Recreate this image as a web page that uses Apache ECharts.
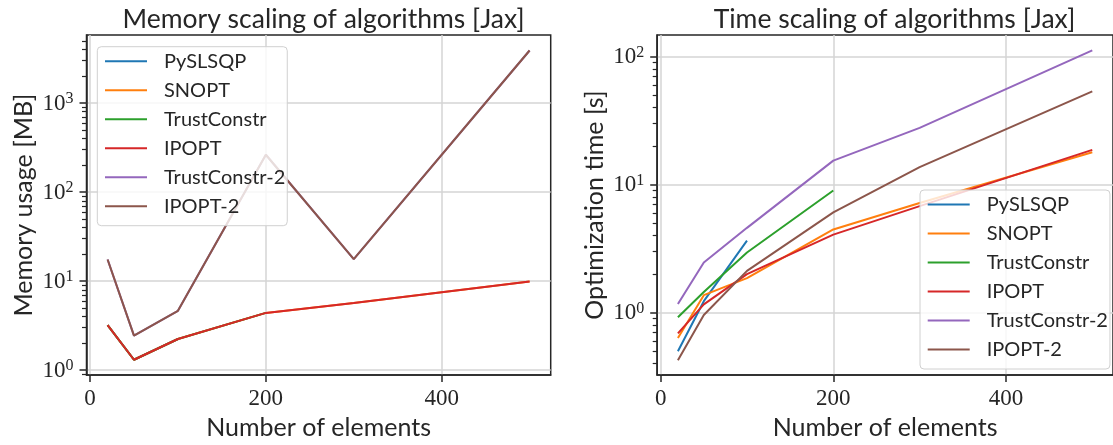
<!DOCTYPE html>
<html><head><meta charset="utf-8">
<script src="https://cdn.jsdelivr.net/npm/echarts@6/dist/echarts.min.js"></script>
<style>html,body{margin:0;padding:0;background:#fff}#c{width:1113px;height:445px}</style>
</head><body><div id="c"></div>
<script>
// ---------- data ----------
const seriesNames = ['PySLSQP', 'SNOPT', 'TrustConstr', 'IPOPT', 'TrustConstr-2', 'IPOPT-2'];
const colors = ['#1f77b4', '#ff7f0e', '#2ca02c', '#d62728', '#9467bd', '#8c564b'];
const elements = [20, 50, 100, 200, 300, 500];

// Memory usage [MB]
const memPySLSQP = [3.2, 1.31, 2.24];
const memSNOPT = [3.2, 1.31, 2.24, 4.4, 5.7, 9.9];
const memTrustConstr = [3.2, 1.31, 2.24, 4.4];
const memIPOPT = [3.2, 1.31, 2.24, 4.4, 5.7, 9.9];
const memTrustConstr2 = [17.5, 2.45, 4.65, 263, 17.7, 3900];
const memIPOPT2 = [17.5, 2.45, 4.65, 263, 17.7, 3900];

// Optimization time [s]
const timePySLSQP = [0.5, 1.23, 3.65];
const timeSNOPT = [0.635, 1.37, 1.86, 4.47, 7.2, 17.9];
const timeTrustConstr = [0.92, 1.45, 2.95, 9.0];
const timeIPOPT = [0.69, 1.16, 2.0, 4.07, 6.8, 18.7];
const timeTrustConstr2 = [1.17, 2.47, 4.6, 15.4, 27.8, 112];
const timeIPOPT2 = [0.425, 0.96, 2.12, 6.07, 13.7, 53.5];

// tick labels
const xTicks = [0, 200, 400];
const memDecades = [0, 1, 2, 3];
const timeDecades = [0, 1, 2];

const titles = ['Memory scaling of algorithms [Jax]', 'Time scaling of algorithms [Jax]'];
const yNames = ['Memory usage [MB]', 'Optimization time [s]'];
const xName = 'Number of elements';

// ---------- styling ----------
const SANS = 'Lato';
const SERIF = 'Liberation Serif';
const TXT = '#262626';
const GRIDC = '#d4d4d4';

const memSets = [memPySLSQP, memSNOPT, memTrustConstr, memIPOPT, memTrustConstr2, memIPOPT2];
const timeSets = [timePySLSQP, timeSNOPT, timeTrustConstr, timeIPOPT, timeTrustConstr2, timeIPOPT2];

const grids = [
  { left: 86.5, top: 35, width: 464.2, height: 345.7 },
  { left: 657.2, top: 35, width: 464.6, height: 345 }
];
const yRanges = [[-0.055, 3.765], [-0.4875, 2.169]];
const decadeSets = [memDecades, timeDecades];

function minorTicks(lo, hi) {
  const out = [];
  for (let d = Math.floor(lo); d <= Math.ceil(hi); d++) {
    for (let m = 2; m <= 9; m++) {
      const v = d + Math.log10(m);
      if (v >= lo && v <= hi) out.push(v);
    }
  }
  return out;
}

const xAxes = [0, 1].map(g => ({
  type: 'value', gridIndex: g, min: -4, max: 524,
  name: xName, nameLocation: 'middle', nameGap: 38,
  nameTextStyle: { fontFamily: SANS, fontSize: 25, color: TXT },
  axisLine: { show: true, onZero: false, lineStyle: { color: TXT, width: 1.5 } },
  axisTick: { show: true, customValues: xTicks, length: 7, lineStyle: { color: TXT, width: 1.5 } },
  axisLabel: { customValues: xTicks, margin: 12, fontFamily: SERIF, fontSize: 23, color: TXT },
  splitLine: { show: true, lineStyle: { color: GRIDC, width: 1.5 } }
}));

const yAxes = [];
[0, 1].forEach(g => {
  const [lo, hi] = yRanges[g];
  // data axis (log scale)
  yAxes.push({
    type: 'log', gridIndex: g, min: Math.pow(10, lo), max: Math.pow(10, hi), position: 'left',
    axisLine: { show: false, onZero: false }, axisTick: { show: false }, axisLabel: { show: false }, splitLine: { show: false }
  });
  // decade ticks + labels + grid lines (exponent space)
  yAxes.push({
    type: 'value', gridIndex: g, min: lo, max: hi, position: 'left',
    name: yNames[g], nameLocation: 'middle', nameGap: 50,
    nameTextStyle: { fontFamily: SANS, fontSize: 25, color: TXT },
    axisLine: { show: true, onZero: false, lineStyle: { color: TXT, width: 1.5 } },
    axisTick: { show: true, customValues: decadeSets[g], length: 7, lineStyle: { color: TXT, width: 1.5 } },
    axisLabel: {
      customValues: decadeSets[g], margin: 13,
      formatter: v => '{b|10}{s|' + Math.round(v) + '}',
      rich: {
        b: { fontFamily: SERIF, fontSize: 23, color: TXT, lineHeight: 24, verticalAlign: 'bottom' },
        s: { fontFamily: SERIF, fontSize: 16, color: TXT, lineHeight: 24, verticalAlign: 'top', padding: [0, 0, 10, 0] }
      }
    },
    splitLine: { show: true, lineStyle: { color: GRIDC, width: 1.5 } }
  });
  // minor ticks
  yAxes.push({
    type: 'value', gridIndex: g, min: lo, max: hi, position: 'left',
    axisLine: { show: false, onZero: false },
    axisTick: { show: true, customValues: minorTicks(lo, hi), length: 4.5, lineStyle: { color: TXT, width: 1.2 } },
    axisLabel: { show: false }, splitLine: { show: false }
  });
});

const series = [];
[memSets, timeSets].forEach((sets, g) => {
  sets.forEach((vals, i) => {
    series.push({
      type: 'line', name: seriesNames[i], xAxisIndex: g, yAxisIndex: g * 3,
      data: vals.map((v, k) => [elements[k], v]),
      symbol: 'none', showSymbol: false, color: colors[i],
      lineStyle: { width: 2, color: colors[i] },
      emphasis: { disabled: true }, animation: false
    });
  });
});

function legendAt(left, top) {
  return {
    orient: 'vertical', left: left, top: top, data: seriesNames,
    icon: 'rect', itemWidth: 42, itemHeight: 2, itemGap: 9,
    padding: [4.5, 2, 9.5, 7.7],
    backgroundColor: 'rgba(255,255,255,0.8)', borderColor: '#d0d0d0', borderWidth: 1, borderRadius: 4,
    textStyle: { fontFamily: SANS, fontSize: 20, color: TXT, lineHeight: 20, padding: [0, 0, 0, 12] },
    selectedMode: false
  };
}

const option = {
  animation: false,
  backgroundColor: '#ffffff',
  title: [
    { text: titles[0], left: 318.6, top: 1, textAlign: 'center', textStyle: { fontFamily: SANS, fontSize: 26.5, fontWeight: 'normal', color: TXT } },
    { text: titles[1], left: 889.5, top: 1, textAlign: 'center', textStyle: { fontFamily: SANS, fontSize: 26.5, fontWeight: 'normal', color: TXT } }
  ],
  grid: grids.map(g => Object.assign({ show: true, borderColor: TXT, borderWidth: 1.5, backgroundColor: 'transparent' }, g)),
  xAxis: xAxes,
  yAxis: yAxes,
  legend: [legendAt(97.3, 46.7), legendAt(920, 190)],
  series: series
};

const chart = echarts.init(document.getElementById('c'), null, { renderer: 'canvas' });
chart.setOption(option);
</script>
</body></html>
